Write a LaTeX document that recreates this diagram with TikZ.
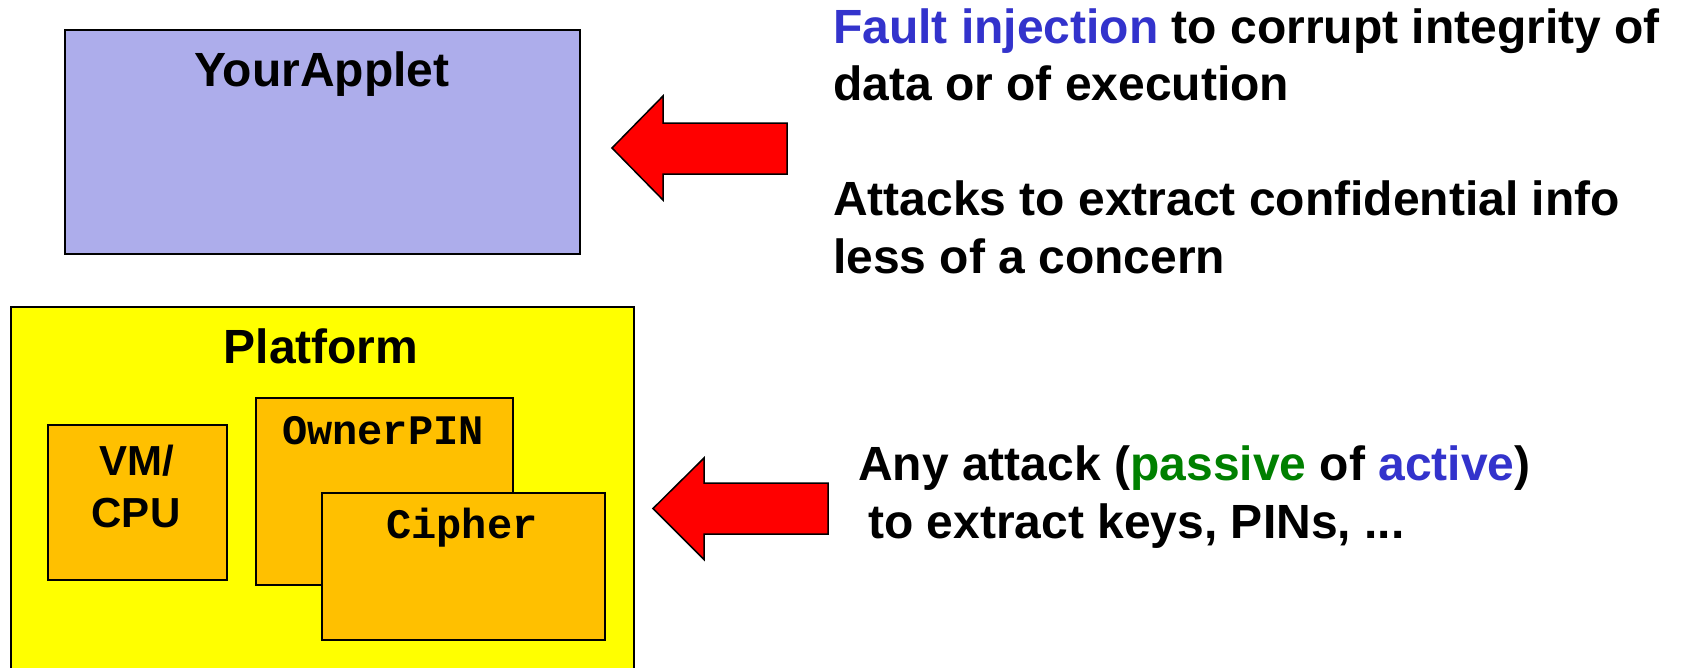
\documentclass[tikz,border=0pt]{standalone}
\usepackage{fontspec}
\setmainfont{Liberation Sans}
\newfontfamily\monobold{Liberation Mono}
\definecolor{appletfill}{RGB}{173,173,235}
\definecolor{platfill}{RGB}{255,255,0}
\definecolor{compfill}{RGB}{255,192,0}
\definecolor{txtblue}{RGB}{51,51,204}
\definecolor{txtgreen}{RGB}{0,128,0}
\tikzset{
  boxstyle/.style={draw=black, line width=1.5pt, rectangle, anchor=north west, inner sep=0pt},
  bigtxt/.style={anchor=base west, inner sep=0pt, font=\fontsize{48}{57.6}\selectfont\bfseries},
  ctrtxt/.style={anchor=base, inner sep=0pt, font=\fontsize{48}{57.6}\selectfont\bfseries},
  comptxt/.style={anchor=base, inner sep=0pt, font=\fontsize{42}{50}\selectfont\bfseries},
  monotxt/.style={anchor=base, inner sep=0pt, font=\fontsize{42}{50}\selectfont\monobold\bfseries},
  blockarrow/.style={draw=black, line width=1.5pt, fill=red, line join=miter}
}
\begin{document}
\begin{tikzpicture}[x=1pt,y=-1pt]
\clip (0,0) rectangle (1681,667);
\fill[white] (0,0) rectangle (1681,667);
% boxes
\node[boxstyle, fill=appletfill, minimum width=515pt, minimum height=224pt] (applet) at (64,29) {};
\node[boxstyle, fill=platfill, minimum width=623pt, minimum height=400pt] (platform) at (10,306) {};
\node[boxstyle, fill=compfill, minimum width=179pt, minimum height=155pt] (vmcpu) at (47,424) {};
\node[boxstyle, fill=compfill, minimum width=257pt, minimum height=187pt] (ownerpin) at (255,397) {};
\node[boxstyle, fill=compfill, minimum width=283pt, minimum height=147pt] (cipher) at (321,492) {};
% box labels
\node[ctrtxt] (appletlbl) at (322,86) {YourApplet};
\node[ctrtxt] (platlbl) at (321,363) {Platform};
\node[comptxt] (vmlbl) at (137,475) {VM/};
\node[comptxt] (cpulbl) at (136,527) {CPU};
\node[monotxt] (ownerlbl) at (383,444) {OwnerPIN};
\node[monotxt] (cipherlbl) at (462,538) {Cipher};
% block arrows
\coordinate (tipA) at (612,148);
\coordinate (tipB) at (653,508.5);
\draw[blockarrow] (tipA) -- ++(51,-52) -- ++(0,27) -- ++(124,0) -- ++(0,51) -- ++(-124,0) -- ++(0,26) -- cycle;
\draw[blockarrow] (tipB) -- ++(51,-50.5) -- ++(0,25) -- ++(124,0) -- ++(0,51) -- ++(-124,0) -- ++(0,25.5) -- cycle;
% right texts
\node[bigtxt] (t1) at (833,43) {\textcolor{txtblue}{Fault injection} to corrupt integrity of};
\node[bigtxt] (t2) at (833,100) {data or of execution};
\node[bigtxt] (t3) at (833,215) {Attacks to extract confidential info};
\node[bigtxt] (t4) at (833,273) {less of a concern};
\node[bigtxt] (t5) at (858,480) {Any attack (\textcolor{txtgreen}{passive} of \textcolor{txtblue}{active})};
\node[bigtxt] (t6) at (868,538) {to extract keys, PINs, ...};
\end{tikzpicture}
\end{document}
